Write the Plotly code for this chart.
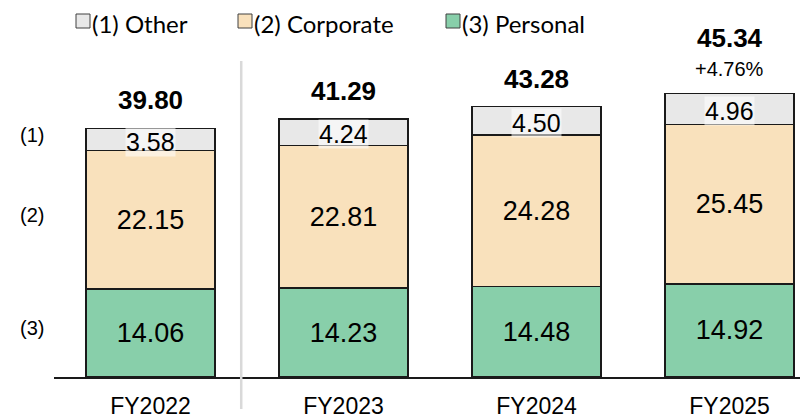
import plotly.graph_objects as go

categories = ["FY2022", "FY2023", "FY2024", "FY2025"]
personal = [14.06, 14.23, 14.48, 14.92]
corporate = [22.15, 22.81, 24.28, 25.45]
other = [3.58, 4.24, 4.50, 4.96]
totals = [39.80, 41.29, 43.28, 45.34]
growth = ["", "", "", "+4.76%"]
series_names = ["(1) Other", "(2) Corporate", "(3) Personal"]
side_labels = ["(1)", "(2)", "(3)"]

C_OTHER = "#E8E8E8"
C_CORP = "#F9E1BC"
C_PERS = "#88CFAA"
VAL_FONT = "Liberation Sans, Arial, sans-serif"
LEG_FONT = "Lato, Carlito, sans-serif"

fig = go.Figure()
line = dict(color="#1a1a1a", width=1.5)
fig.add_trace(go.Bar(x=categories, y=personal, name=series_names[2],
                     marker=dict(color=C_PERS, line=line),
                     text=[f"{v:.2f}" for v in personal], textposition="inside",
                     insidetextanchor="middle", textangle=0,
                     textfont=dict(family=VAL_FONT, size=27, color="black")))
fig.add_trace(go.Bar(x=categories, y=corporate, name=series_names[1],
                     marker=dict(color=C_CORP, line=line),
                     text=[f"{v:.2f}" for v in corporate], textposition="inside",
                     insidetextanchor="middle", textangle=0,
                     textfont=dict(family=VAL_FONT, size=27, color="black")))
fig.add_trace(go.Bar(x=categories, y=other, name=series_names[0],
                     marker=dict(color=C_OTHER, line=line),
                     textposition="none"))

annotations = []
for i, c in enumerate(categories):
    mid = personal[i] + corporate[i] + other[i] / 2
    annotations.append(dict(x=c, y=mid, xref="x", yref="y", text=f"{other[i]:.2f}",
                            showarrow=False, yshift=-2,
                            font=dict(family=VAL_FONT, size=25, color="black"),
                            bgcolor="rgba(255,255,255,0.55)", borderpad=0))
    shift = 56 if growth[i] else 28
    annotations.append(dict(x=c, y=totals[i], xref="x", yref="y",
                            text=f"<b>{totals[i]:.2f}</b>", showarrow=False,
                            yanchor="middle", yshift=shift,
                            font=dict(family=VAL_FONT, size=26, color="black")))
    if growth[i]:
        annotations.append(dict(x=c, y=totals[i], xref="x", yref="y",
                                text=growth[i], showarrow=False,
                                yanchor="middle", yshift=25,
                                font=dict(family=VAL_FONT, size=20, color="black")))

# The page body has an 8px margin, so the figure sits 8px right/down in the window.
# Plot area in window pixels: x 54..816, y 62..377
def px(xp):
    return (xp - 54) / 762.0

def py(yp):
    return (377 - yp) / 315.0

# side labels
for lab, yp in zip(side_labels, [135, 215, 328]):
    annotations.append(dict(x=px(32), y=py(yp), xref="paper", yref="paper", text=lab,
                            showarrow=False, xanchor="center", yanchor="middle",
                            font=dict(family=VAL_FONT, size=20, color="black")))

shapes = []
# legend
legend_items = [(series_names[0], C_OTHER, 76), (series_names[1], C_CORP, 238),
                (series_names[2], C_PERS, 446)]
for name, col, xs in legend_items:
    shapes.append(dict(type="rect", xref="paper", yref="paper",
                       x0=px(xs), x1=px(xs + 14), y0=py(28), y1=py(14),
                       fillcolor=col, line=dict(color="#404040", width=1)))
    annotations.append(dict(x=px(xs + 15), y=py(23), xref="paper", yref="paper",
                            text=name, showarrow=False, xanchor="left", yanchor="middle",
                            borderpad=0,
                            font=dict(family=LEG_FONT, size=24, color="black")))

# separator line
shapes.append(dict(type="line", xref="x", yref="paper", x0=0.47, x1=0.47,
                   y0=py(409), y1=py(61), line=dict(color="#D9D9D9", width=2.5)))

fig.update_layout(
    barmode="stack", bargap=0.332, showlegend=False,
    width=808, height=418, margin=dict(l=46, r=0, t=54, b=49, autoexpand=False),
    plot_bgcolor="white", paper_bgcolor="white",
    annotations=annotations, shapes=shapes,
    xaxis=dict(range=[-0.5, 3.448], showline=True, linecolor="#1a1a1a", linewidth=1.5,
               ticks="", showgrid=False, ticklabelstandoff=8, automargin=False,
               tickfont=dict(family=VAL_FONT, size=23, color="black")),
    yaxis=dict(range=[0, 50.4], visible=False, showgrid=False, automargin=False),
)

fig.write_html("out.html")
